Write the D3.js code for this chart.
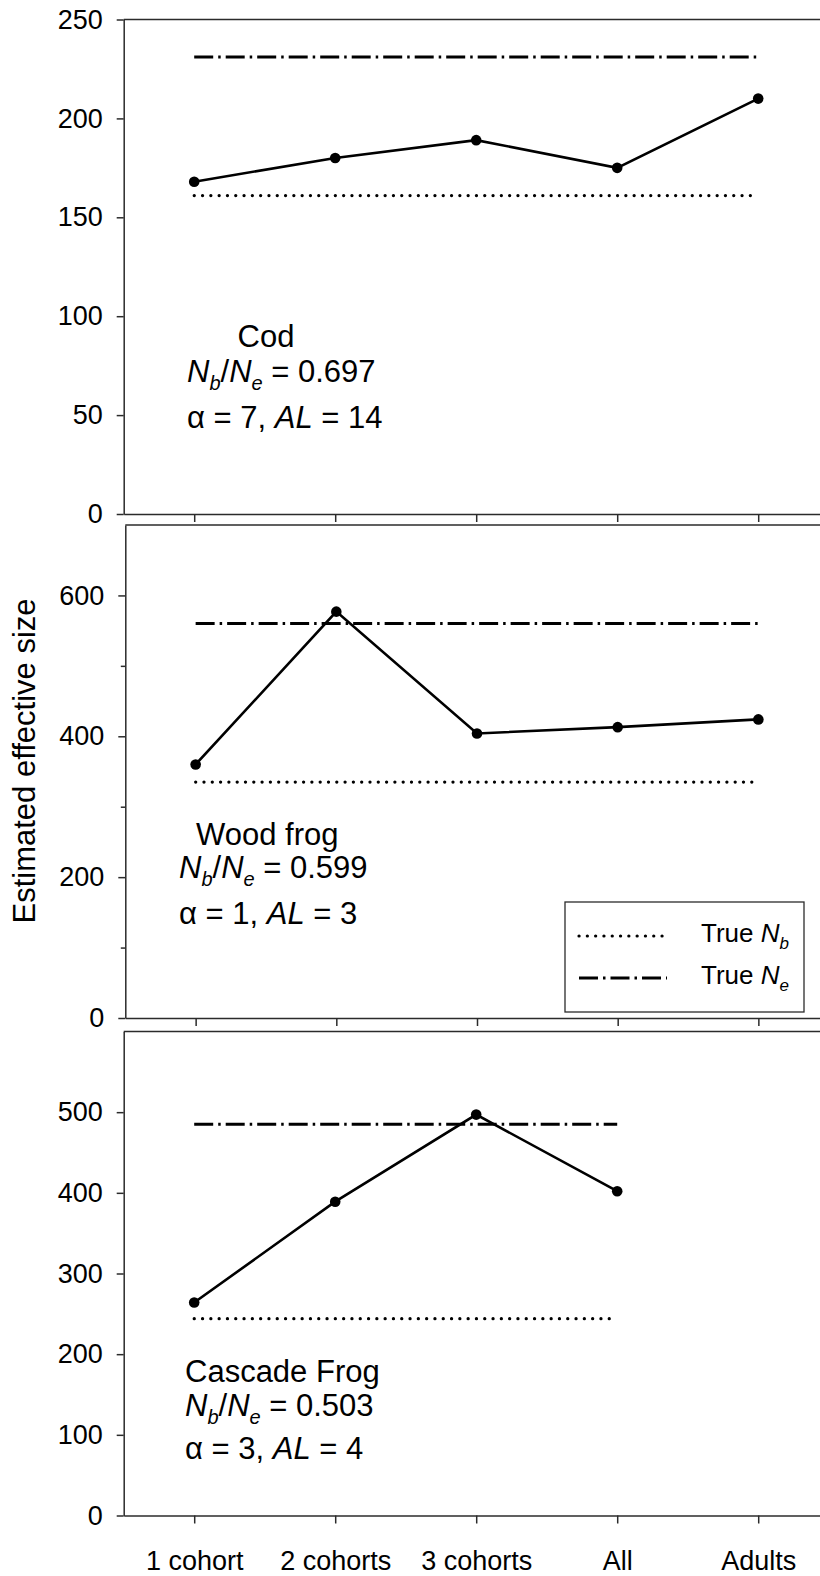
<!DOCTYPE html>
<html>
<head>
<meta charset="utf-8">
<script src="https://cdn.jsdelivr.net/npm/d3@7"></script>
<style>
  html, body { margin: 0; padding: 0; background: #fff; }
  svg { display: block; font-family: "Liberation Sans", Arial, sans-serif; }
  text { white-space: pre; }
</style>
</head>
<body>
<svg id="chart" width="820" height="1576"></svg>
<script>
// ---- data ----
const categories = ["1 cohort", "2 cohorts", "3 cohorts", "All", "Adults"];
const codValues = [168, 180, 189, 175, 210];
const woodFrogValues = [360, 577, 404, 413, 424];
const cascadeFrogValues = [264, 389, 497, 402];
const trueNb = [161, 335, 244];
const trueNe = [231, 560, 485];
const speciesNames = ["Cod", "Wood frog", "Cascade Frog"];
const ratioLabels = ["0.697", "0.599", "0.503"];
const alphaLabels = ["7", "1", "3"];
const alLabels = ["14", "3", "4"];
const yMaxes = [250, 700, 600];
const yTicksCod = [0, 50, 100, 150, 200, 250];
const yTicksWood = [0, 200, 400, 600];
const yMinorWood = [100, 300, 500];
const yTicksCascade = [0, 100, 200, 300, 400, 500];
const legendLabels = ["True ", "True "];
const legendSubs = ["b", "e"];

const seriesList = [codValues, woodFrogValues, cascadeFrogValues];
const majorTicks = [yTicksCod, yTicksWood, yTicksCascade];
const minorTicks = [[], yMinorWood, []];

// ---- layout ----
const svg = d3.select("#chart");
const panels = [
  {top: 19.5, bottom: 514, left: 123.7, showLabels: false,
   ann: {titleX: 266, titleAnchor: "middle", titleY: 347, textX: 187, l2: 382, l3: 428}},
  {top: 525, bottom: 1018, left: 125.3, showLabels: false,
   ann: {titleX: 196, titleAnchor: "start", titleY: 845, textX: 179, l2: 878, l3: 924}},
  {top: 1031.5, bottom: 1515.5, left: 123.7, showLabels: true,
   ann: {titleX: 185, titleAnchor: "start", titleY: 1382, textX: 185, l2: 1416, l3: 1459}}
];
const rightEdge = 828.7;
const axisColor = "#2b2b2b";
const tickFont = 27;
const annFont = 31;
const subFont = 20;

const dotDash = "0.1 8.2";
const dashDot = "19 5 2.5 5";

panels.forEach((p, i) => {
  const x = d3.scalePoint().domain(categories).range([p.left, rightEdge]).padding(0.5);
  const y = d3.scaleLinear().domain([0, yMaxes[i]]).range([p.bottom, p.top]);
  const g = svg.append("g");

  // top frame line and right frame line (clipped by width)
  g.append("line").attr("x1", p.left).attr("x2", rightEdge)
    .attr("y1", p.top).attr("y2", p.top)
    .attr("stroke", axisColor).attr("stroke-width", 1.5);
  g.append("line").attr("x1", rightEdge).attr("x2", rightEdge)
    .attr("y1", p.top).attr("y2", p.bottom)
    .attr("stroke", axisColor).attr("stroke-width", 1.5);

  // y axis
  const yAxis = g.append("g").attr("transform", `translate(${p.left},0)`)
    .call(d3.axisLeft(y).tickValues(majorTicks[i]).tickSize(7).tickSizeOuter(0).tickPadding(14).tickFormat(d3.format("d")));
  yAxis.select(".domain").attr("stroke", axisColor).attr("stroke-width", 1.5);
  yAxis.selectAll(".tick line").attr("stroke", axisColor).attr("stroke-width", 1.5);
  yAxis.selectAll(".tick text").attr("font-size", tickFont).attr("fill", "#000")
    .attr("font-family", "Liberation Sans, Arial, sans-serif");
  if (minorTicks[i].length) {
    const minor = g.append("g").attr("transform", `translate(${p.left},0)`)
      .call(d3.axisLeft(y).tickValues(minorTicks[i]).tickSize(4.5).tickFormat(""));
    minor.select(".domain").remove();
    minor.selectAll(".tick line").attr("stroke", axisColor).attr("stroke-width", 1.5);
  }

  // x axis
  const xAxis = g.append("g").attr("transform", `translate(0,${p.bottom})`)
    .call(d3.axisBottom(x).tickSize(8).tickSizeOuter(0).tickPadding(27));
  xAxis.select(".domain").attr("stroke", axisColor).attr("stroke-width", 1.5);
  xAxis.selectAll(".tick line").attr("stroke", axisColor).attr("stroke-width", 1.5);
  if (p.showLabels) {
    xAxis.selectAll(".tick text").attr("font-size", tickFont).attr("fill", "#000")
      .attr("font-family", "Liberation Sans, Arial, sans-serif");
  } else {
    xAxis.selectAll(".tick text").remove();
  }

  const vals = seriesList[i];
  const xStart = x(categories[0]);
  const xEnd = x(categories[vals.length - 1]);

  // reference lines
  g.append("line").attr("x1", xStart).attr("x2", xEnd)
    .attr("y1", y(trueNe[i])).attr("y2", y(trueNe[i]))
    .attr("stroke", "#000").attr("stroke-width", 3).attr("stroke-dasharray", dashDot);
  g.append("line").attr("x1", xStart).attr("x2", xEnd)
    .attr("y1", y(trueNb[i])).attr("y2", y(trueNb[i]))
    .attr("stroke", "#000").attr("stroke-width", 3.2).attr("stroke-linecap", "round")
    .attr("stroke-dasharray", dotDash);

  // data line
  const data = vals.map((v, k) => ({c: categories[k], v}));
  g.append("path").datum(data)
    .attr("d", d3.line().x(d => x(d.c)).y(d => y(d.v)))
    .attr("fill", "none").attr("stroke", "#000").attr("stroke-width", 2.6);
  g.selectAll("circle.pt").data(data).join("circle").attr("class", "pt")
    .attr("cx", d => x(d.c)).attr("cy", d => y(d.v)).attr("r", 5.3).attr("fill", "#000");

  // annotation
  const a = p.ann;
  g.append("text").attr("x", a.titleX).attr("y", a.titleY).attr("text-anchor", a.titleAnchor)
    .attr("font-size", annFont).text(speciesNames[i]);
  const t2 = g.append("text").attr("x", a.textX).attr("y", a.l2).attr("font-size", annFont);
  t2.append("tspan").attr("font-style", "italic").text("N");
  t2.append("tspan").attr("font-style", "italic").attr("font-size", subFont).attr("dy", 8).text("b");
  t2.append("tspan").attr("dy", -8).text("/");
  t2.append("tspan").attr("font-style", "italic").text("N");
  t2.append("tspan").attr("font-style", "italic").attr("font-size", subFont).attr("dy", 8).text("e");
  t2.append("tspan").attr("dy", -8).text(" = " + ratioLabels[i]);
  const t3 = g.append("text").attr("x", a.textX).attr("y", a.l3).attr("font-size", annFont);
  t3.append("tspan").text("\u03B1 = " + alphaLabels[i] + ", ");
  t3.append("tspan").attr("font-style", "italic").text("AL");
  t3.append("tspan").text(" = " + alLabels[i]);

  // legend in middle panel
  if (i === 1) {
    const lg = g.append("g");
    lg.append("rect").attr("x", 565).attr("y", 902).attr("width", 239).attr("height", 110)
      .attr("fill", "#fff").attr("stroke", axisColor).attr("stroke-width", 1.3);
    const styles = [{dash: dotDash, w: 3.2, cap: "round"}, {dash: dashDot, w: 3, cap: "butt"}];
    [936, 978].forEach((ly, k) => {
      lg.append("line").attr("x1", 579).attr("x2", 667).attr("y1", ly).attr("y2", ly)
        .attr("stroke", "#000").attr("stroke-width", styles[k].w)
        .attr("stroke-linecap", styles[k].cap).attr("stroke-dasharray", styles[k].dash);
      const lt = lg.append("text").attr("x", 701).attr("y", ly + 6).attr("font-size", 26);
      lt.append("tspan").text(legendLabels[k]);
      lt.append("tspan").attr("font-style", "italic").text("N");
      lt.append("tspan").attr("font-style", "italic").attr("font-size", 17).attr("dy", 7).text(legendSubs[k]);
    });
  }
});

// y axis title
svg.append("text").attr("transform", "translate(35,761) rotate(-90)")
  .attr("text-anchor", "middle").attr("font-size", 31).text("Estimated effective size");
</script>
</body>
</html>
